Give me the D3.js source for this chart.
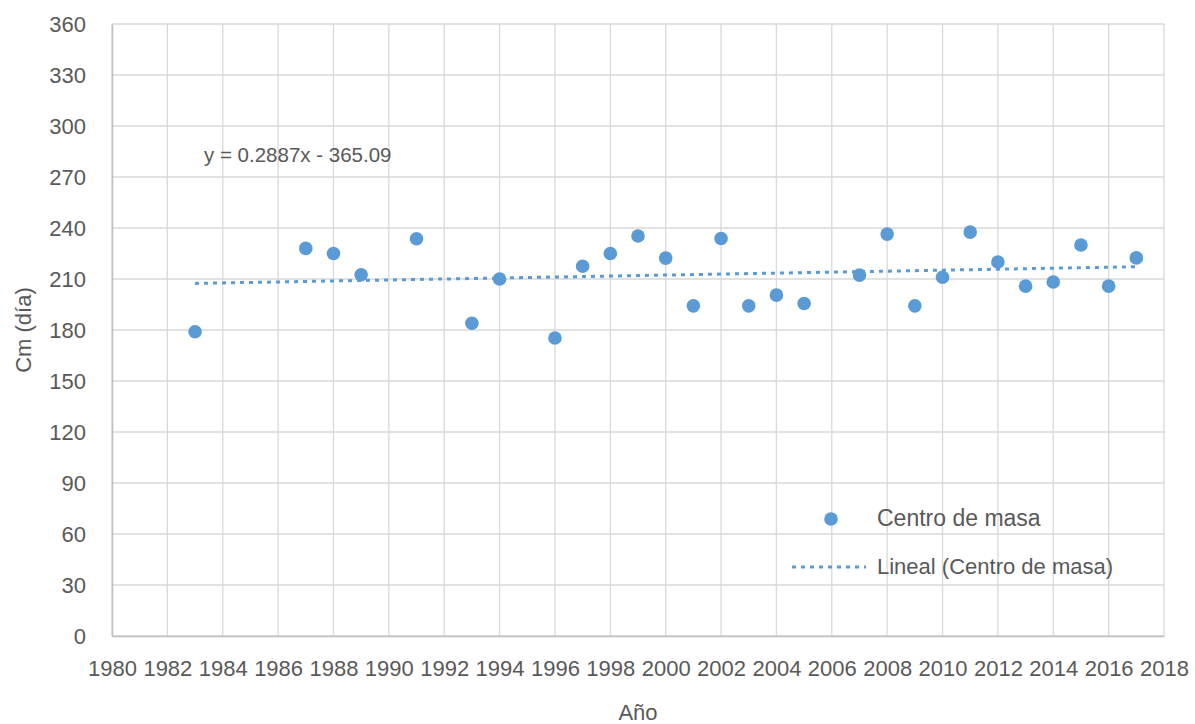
<!DOCTYPE html>
<html>
<head>
<meta charset="utf-8">
<script src="https://cdn.jsdelivr.net/npm/d3@7"></script>
<style>
  body { margin: 0; background: #fff; }
  svg { display: block; }
  text { font-family: "Liberation Sans", Arial, sans-serif; fill: #595959; }
</style>
</head>
<body>
<svg id="chart" width="1195" height="724"></svg>
<script>
const years = [1983, 1987, 1988, 1989, 1991, 1993, 1994, 1996, 1997, 1998, 1999, 2000, 2001, 2002, 2003, 2004, 2005, 2007, 2008, 2009, 2010, 2011, 2012, 2013, 2014, 2015, 2016, 2017];
const values = [179, 228, 225, 212.5, 233.7, 184, 210, 175.3, 217.5, 225, 235.3, 222.3, 194.2, 233.8, 194.2, 200.5, 195.6, 212.3, 236.4, 194.2, 211, 237.6, 220, 205.8, 208.2, 230, 205.8, 222.4];
const xTicks = [1980, 1982, 1984, 1986, 1988, 1990, 1992, 1994, 1996, 1998, 2000, 2002, 2004, 2006, 2008, 2010, 2012, 2014, 2016, 2018];
const yTicks = [0, 30, 60, 90, 120, 150, 180, 210, 240, 270, 300, 330, 360];
const trendSlope = 0.2887;
const trendIntercept = -365.09;
const seriesName = "Centro de masa";
const trendName = "Lineal (Centro de masa)";
const equationLabel = "y = 0.2887x - 365.09";
const xTitle = "Año";
const yTitle = "Cm (día)";

const color = "#5B9BD5";
const svg = d3.select("#chart");
const L = 112, R = 1164, T = 24, B = 636;

const x = d3.scaleLinear().domain([1980, 2018]).range([L, R]);
const y = d3.scaleLinear().domain([0, 360]).range([B, T]);

// gridlines
const grid = svg.append("g");
grid.selectAll("line.h").data(yTicks).join("line")
  .attr("x1", L).attr("x2", R)
  .attr("y1", d => y(d)).attr("y2", d => y(d))
  .attr("stroke", "#D9D9D9").attr("stroke-width", 1.3);
grid.selectAll("line.v").data(xTicks).join("line")
  .attr("x1", d => x(d)).attr("x2", d => x(d))
  .attr("y1", T).attr("y2", B)
  .attr("stroke", "#D9D9D9").attr("stroke-width", 1.3);

// axes
const xAxis = svg.append("g").attr("transform", `translate(0,${B})`)
  .call(d3.axisBottom(x).tickValues(xTicks).tickFormat(d3.format("d")).tickSize(0).tickPadding(24));
const yAxis = svg.append("g").attr("transform", `translate(${L},0)`)
  .call(d3.axisLeft(y).tickValues(yTicks).tickFormat(d3.format("d")).tickSize(0).tickPadding(26));
[xAxis, yAxis].forEach(a => {
  a.select(".domain").attr("stroke", "#BFBFBF").attr("stroke-width", 1.5);
  a.selectAll("text").style("font-family", '"Liberation Sans", Arial, sans-serif')
    .style("font-size", "22px").attr("fill", "#595959");
});
xAxis.selectAll("text").attr("dy", "0.35em").attr("y", 32);

// trend line
const trendData = [d3.min(years), d3.max(years)].map(v => [v, trendSlope * v + trendIntercept]);
svg.append("path")
  .datum(trendData)
  .attr("d", d3.line().x(d => x(d[0])).y(d => y(d[1])))
  .attr("fill", "none").attr("stroke", color).attr("stroke-width", 3)
  .attr("stroke-dasharray", "4,5");

// points
svg.append("g").selectAll("circle").data(years).join("circle")
  .attr("cx", d => x(d))
  .attr("cy", (d, i) => y(values[i]))
  .attr("r", 6.8)
  .attr("fill", color);

// equation
svg.append("text").attr("x", 204).attr("y", 155).attr("dy", "0.35em")
  .style("font-size", "20.5px").text(equationLabel);

// axis titles
svg.append("text").attr("x", (L + R) / 2).attr("y", 712).attr("dy", "0.35em")
  .attr("text-anchor", "middle").style("font-size", "22px").text(xTitle);
svg.append("text").attr("transform", `translate(23,${(T + B) / 2}) rotate(-90)`)
  .attr("dy", "0.35em").attr("text-anchor", "middle").style("font-size", "22px").text(yTitle);

// legend
const lg = svg.append("g");
lg.append("circle").attr("cx", 831).attr("cy", 519).attr("r", 6.8).attr("fill", color);
lg.append("text").attr("x", 877).attr("y", 518).attr("dy", "0.35em").style("font-size", "23px").text(seriesName);
lg.append("line").attr("x1", 792).attr("x2", 866).attr("y1", 567).attr("y2", 567)
  .attr("stroke", color).attr("stroke-width", 3).attr("stroke-dasharray", "4,5");
lg.append("text").attr("x", 877).attr("y", 566).attr("dy", "0.35em").style("font-size", "22px").text(trendName);
</script>
</body>
</html>
